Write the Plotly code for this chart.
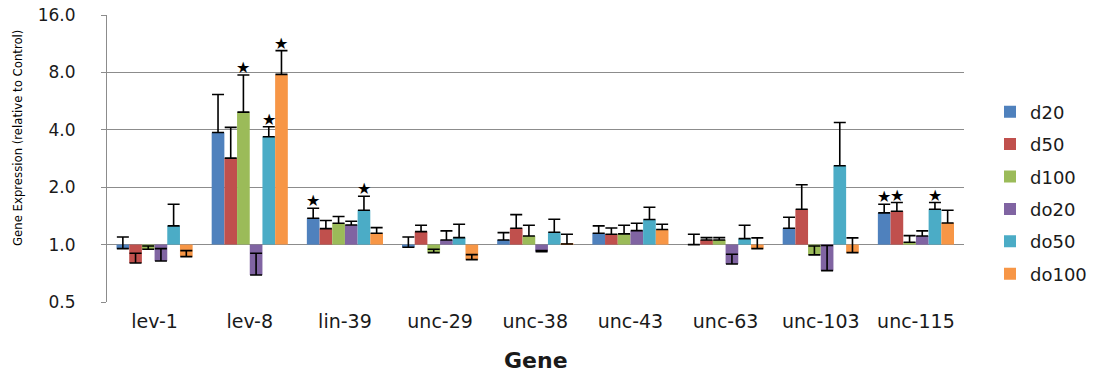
import plotly.graph_objects as go
import math

genes = ["lev-1", "lev-8", "lin-39", "unc-29", "unc-38", "unc-43", "unc-63", "unc-103", "unc-115"]
series = ["d20", "d50", "d100", "do20", "do50", "do100"]
colors = ["#4F81BD", "#C0504D", "#9BBB59", "#8064A2", "#4BACC6", "#F79646"]

# mean fold change relative to control
d20 = [0.953, 3.87, 1.375, 0.968, 1.058, 1.147, 1.0, 1.218, 1.466]
d50 = [0.801, 2.84, 1.213, 1.170, 1.218, 1.133, 1.058, 1.533, 1.496]
d100 = [0.945, 4.95, 1.294, 0.908, 1.110, 1.138, 1.058, 0.883, 1.028]
do20 = [0.821, 0.693, 1.268, 1.058, 0.919, 1.184, 0.791, 0.730, 1.110]
do50 = [1.253, 3.68, 1.515, 1.088, 1.161, 1.353, 1.075, 2.59, 1.533]
do100 = [0.865, 7.81, 1.147, 0.834, 1.008, 1.199, 0.953, 0.908, 1.299]

# upper end of error bar
d20_hi = [1.097, 6.13, 1.552, 1.097, 1.156, 1.253, 1.133, 1.392, 1.628]
d50_hi = [0.900, 4.12, 1.337, 1.263, 1.437, 1.223, 1.088, 2.06, 1.662]
d100_hi = [0.984, 7.75, 1.403, 0.945, 1.263, 1.263, 1.088, 0.984, 1.115]
do20_hi = [0.953, 0.900, 1.326, 1.180, 0.930, 1.294, 0.890, 0.990, 1.180]
do50_hi = [1.628, 4.15, 1.794, 1.279, 1.359, 1.571, 1.263, 4.37, 1.662]
do100_hi = [0.930, 10.4, 1.228, 0.886, 1.133, 1.279, 1.084, 1.084, 1.515]

# significance markers
d20_sig = [0, 0, 1, 0, 0, 0, 0, 0, 1]
d50_sig = [0, 0, 0, 0, 0, 0, 0, 0, 1]
d100_sig = [0, 1, 0, 0, 0, 0, 0, 0, 0]
do20_sig = [0, 0, 0, 0, 0, 0, 0, 0, 0]
do50_sig = [0, 1, 1, 0, 0, 0, 0, 0, 1]
do100_sig = [0, 1, 0, 0, 0, 0, 0, 0, 0]

yticks = [0.5, 1, 2, 4, 8, 16]
yticktext = ["0.5", "1.0", "2.0", "4.0", "8.0", "16.0"]

values = [d20, d50, d100, do20, do50, do100]
highs = [d20_hi, d50_hi, d100_hi, do20_hi, do50_hi, do100_hi]
sigs = [d20_sig, d50_sig, d100_sig, do20_sig, do50_sig, do100_sig]

W, H = 1093, 374
ML, MR, MT, MB = 107, 129, 15, 72
BARGAP = 0.2
plot_w = W - ML - MR
plot_h = H - MT - MB

fig = go.Figure()
for name, col, v, hi in zip(series, colors, values, highs):
    fig.add_trace(go.Bar(
        x=genes, y=[a - 1 for a in v], base=1, name=name, legendgroup=name,
        marker=dict(color=col, line=dict(width=0)),
        error_y=dict(type="data", symmetric=False,
                     array=[h - a for h, a in zip(hi, v)],
                     arrayminus=[0] * len(v),
                     color="black", thickness=1.6, width=6),
    ))

bw = plot_w / len(genes) * (1 - BARGAP) / len(series)
annotations = []
for j, (hi, sg) in enumerate(zip(highs, sigs)):
    for g, h, s in zip(genes, hi, sg):
        if s:
            annotations.append(dict(
                x=g, y=math.log10(h), xref="x", yref="y", text="★",
                showarrow=False, yanchor="bottom", xshift=(j - 2.5) * bw,
                yshift=-4, font=dict(size=16, color="black", family="DejaVu Sans")))

annotations.append(dict(
    x=(17 - ML) / plot_w, y=(H - MB - 138) / plot_h, xref="paper", yref="paper",
    xanchor="center", yanchor="middle", textangle=-90,
    text="Gene Expression (relative to Control)", showarrow=False,
    font=dict(size=13, family="Liberation Sans Narrow, DejaVu Sans Condensed, Liberation Sans",
              color="black")))
annotations.append(dict(
    x=0.5, y=(H - MB - 360) / plot_h, xref="paper", yref="paper",
    xanchor="center", yanchor="middle", text="<b>Gene</b>", showarrow=False,
    font=dict(size=22, family="DejaVu Sans", color="#1a1a1a")))

shapes = []
for i in range(len(genes)):
    shapes.append(dict(type="line", xref="x", yref="y", x0=i + 0.5, x1=i + 0.5,
                       ysizemode="pixel", yanchor=0, y0=0, y1=-5,
                       line=dict(color="#8c8c8c", width=1)))

fig.update_layout(
    width=W, height=H,
    margin=dict(l=ML, r=MR, t=MT, b=MB, autoexpand=False),
    paper_bgcolor="white", plot_bgcolor="white",
    barmode="group", bargap=BARGAP, bargroupgap=0,
    showlegend=True,
    legend=dict(x=(990 - ML) / plot_w, y=(H - MB - 193) / plot_h, yanchor="middle", xanchor="left",
                font=dict(size=18, family="DejaVu Sans", color="#1a1a1a"),
                tracegroupgap=6, itemwidth=30, bgcolor="rgba(0,0,0,0)"),
    annotations=annotations,
    shapes=shapes,
    font=dict(family="DejaVu Sans", color="#1a1a1a"),
)
fig.update_yaxes(type="log", range=[math.log10(0.5), math.log10(16)],
                 tickvals=yticks, ticktext=yticktext, automargin=False,
                 showgrid=True, gridcolor="#8c8c8c", gridwidth=1,
                 showline=True, linecolor="#8c8c8c", linewidth=1,
                 ticks="outside", ticklen=5, tickcolor="#8c8c8c",
                 ticklabelstandoff=22,
                 tickfont=dict(size=17, family="DejaVu Sans", color="#1a1a1a"),
                 zeroline=False)
fig.update_xaxes(showgrid=False, showline=False, ticks="", automargin=False,
                 ticklabelstandoff=6,
                 tickfont=dict(size=19, family="DejaVu Sans", color="#1a1a1a"))

fig.write_html("out.html", config={"displayModeBar": False},
               post_script="document.body.style.margin='0px';")
